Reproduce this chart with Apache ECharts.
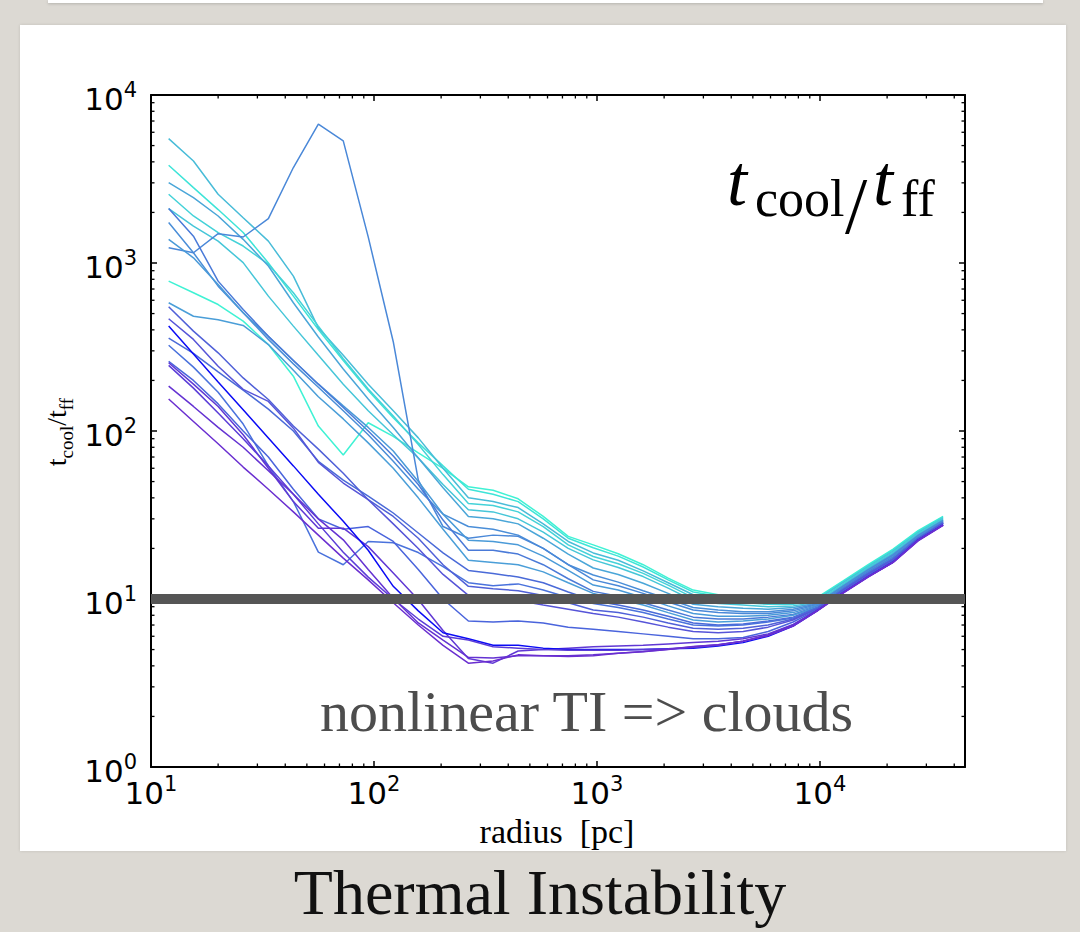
<!DOCTYPE html>
<html><head><meta charset="utf-8">
<script src="https://cdn.jsdelivr.net/npm/echarts@6/dist/echarts.min.js"></script>
<style>
html,body{margin:0;padding:0;width:1080px;height:932px;overflow:hidden;background:#dcd9d3;}
#strip{position:absolute;left:48px;top:0;width:995px;height:3px;background:#fff;box-shadow:0 1px 3px rgba(0,0,0,0.18);}
#panel{position:absolute;left:20px;top:25px;width:1046px;height:826px;background:#fff;box-shadow:0 0 3px rgba(0,0,0,0.12);}
#chart{position:absolute;left:0;top:0;width:1080px;height:932px;}
</style></head><body>
<div id="strip"></div><div id="panel"></div><div id="chart"></div>
<script>
// ---------- data ----------
const radii = [12.0, 15.5, 20.0, 25.9, 33.6, 43.5, 56.3, 72.8, 94.2, 122, 158, 204, 265, 342, 443, 574,
               743, 962, 1245, 1611, 2085, 2700, 3494, 4523, 5855, 7578, 9810, 12700, 16440, 21280, 27540, 35650];

const curve00 = [780,665,566,451,327,212,107,72,112,93,74,60,46.5,44.4,39.5,31,23.6,21,18.6,16,13.3,11.3,10.6,10.2,9.9,9.8,10.3,12.8,16,19.8,25.5,31];
const curve01 = [3820,2810,2080,1520,1000,635,402,263,174,120,85,62,45,42,38,30,23,20.2,18,15.5,13,11.0,10.4,10.0,9.7,9.7,10.2,12.7,15.8,19.6,25.2,30.8];
const curve02 = [5500,4050,2565,1860,1350,835,411,282,190,132,91,60,40,38,35,28,22,18.8,17,14.7,12.5,10.6,10.1,9.8,9.6,9.5,10.0,12.5,15.6,19.3,24.8,30.3];
const curve03 = [2565,1905,1517,1262,982,665,421,269,178,123,83,55,37,36,33,27,21,17.9,16.2,14.2,12.1,10.2,9.8,9.5,9.3,9.3,9.8,12.3,15.4,19,24.5,30];
const curve04 = [2110,1660,1350,1005,635,421,282,190,132,95,69,48,34,33,30,25,20,17.1,15.4,13.6,11.6,9.8,9.4,9.2,9.0,9.1,9.6,12.1,15.2,18.7,24.2,29.7];
const curve05 = [3010,2450,1905,1383,960,580,363,234,155,105,69,46,31,30,28,23,18.5,15.3,14,12.4,10.8,9.3,9.0,8.8,8.7,8.9,9.5,12,15,18.5,24,29.5];
const curve06 = [1740,1150,728,506,351,251,182,132,95,66,45,32,27,26,24,20,16,13.9,12.6,11.2,10,8.9,8.6,8.4,8.4,8.7,9.4,11.9,14.9,18.3,23.8,29.3];
const curve07 = [1233,1151,1495,1428,1837,3700,6700,5330,1430,340,51,27,23,24,23.6,20,16,13,12,10.8,9.6,8.6,8.3,8.2,8.2,8.5,9.3,11.8,14.8,18.1,23.6,29.1];
const curve08 = [1383,1074,745,506,366,263,190,141,105,76,50,32,22.4,22,21,18,14.8,12.1,11.3,10.2,9.1,8.2,7.9,7.9,8.0,8.3,9.2,11.7,14.6,17.9,23.4,28.9];
const curve09 = [2110,1445,780,528,366,263,190,138,100,71,48,29.5,19.5,19.5,18.5,16,13.2,11.1,10.4,9.5,8.6,7.8,7.6,7.6,7.8,8.1,9.1,11.6,14.5,17.7,23.2,28.7];
const curve10 = [580,482,460,425,327,230,160,118,85,60,40,26,17,16.5,16,14.5,12.5,10.8,10,9.2,8.3,7.5,7.3,7.4,7.6,8.0,9.0,11.5,14.3,17.5,23,28.5];
const curve11 = [357,290,225,175,135,100,66,51,41,32.5,24.7,18.8,14.8,14.2,13.5,12.5,11,9.8,9.2,8.6,7.9,7.2,7.0,7.1,7.4,7.8,8.95,11.45,14.25,17.4,22.95,28.45];
const curve12 = [324,240,170,110,62,38,19,16,22,21.6,18.9,15.6,12.5,12.0,12.3,11.3,10.2,9.4,8.9,8.3,7.6,7.0,6.9,7.0,7.3,7.7,8.9,11.4,14.2,17.3,22.9,28.4];
const curve13 = [549,393,292,207,154,107,78,56,39,31,23,16,11.9,11.5,11.2,10.5,9.5,8.6,8.3,7.8,7.2,6.7,6.6,6.7,7.0,7.6,8.8,11.3,14.1,17.2,22.8,28.3];
const curve14 = [466,351,243,177,150,104,65,49,39,28,20,14,10.5,10.2,9.8,9.2,8.7,8.2,7.8,7.3,6.8,6.4,6.3,6.4,6.8,7.5,8.8,11.3,14,17.1,22.7,28.2];
const curve15 = [260,200,145,100,70,45,30,26,27,22,15,10,7.4,7.3,7.4,7.2,6.8,6.6,6.4,6.2,6.0,5.8,5.8,5.9,6.4,7.3,8.7,11.1,13.8,16.9,22.6,28];
const curve16 = [255,190,140,95,60,38,26.4,26.4,20.5,14.3,9.9,6.5,4.43,4.15,4.9,5.0,5.1,5.2,5.25,5.3,5.4,5.5,5.6,5.8,6.2,7.05,8.6,10.9,13.6,16.6,22.4,27.6];
const curve17 = [421,287,196,134,91,62,42,29,19.5,11.9,8.5,6.3,5.8,5.3,5.3,5.1,5.0,5.0,5.0,5.0,5.05,5.1,5.25,5.5,6.0,6.9,8.6,10.9,13.6,16.6,22.4,27.6];
const curve18 = [246,180,128,90,62,42,28,19,13.5,10,7.6,6.0,5.7,5.2,5.1,5.0,4.95,4.95,4.95,5.0,5.05,5.15,5.3,5.6,6.1,7.0,8.6,10.9,13.6,16.6,22.4,27.6];
const curve19 = [185,140,105,80,58,42,30,22.5,15,10.1,7.2,5.7,4.5,4.45,4.6,4.6,4.6,4.65,4.75,4.85,5.0,5.2,5.35,5.6,6.1,6.95,8.6,10.9,13.6,16.5,22.3,27.5];
const curve20 = [155,114,84,61,45,33,24,17.5,13,9.5,7.0,5.3,4.15,4.28,4.65,4.6,4.54,4.6,4.76,4.87,5.02,5.21,5.35,5.6,6.05,6.9,8.55,10.85,13.5,16.5,22.2,27.4];

const threshold = 10;
const xMin = 10, xMax = 44700, yMin = 1, yMax = 10000;
const xMinorTicks = [20,30,40,50,60,70,80,90,200,300,400,500,600,700,800,900,
                     2000,3000,4000,5000,6000,7000,8000,9000,20000,30000,40000];
const yMinorTicks = [2,3,4,5,6,7,8,9,20,30,40,50,60,70,80,90,200,300,400,500,600,700,800,900,
                     2000,3000,4000,5000,6000,7000,8000,9000];

// ---------- styles ----------
const curves = [curve00,curve01,curve02,curve03,curve04,curve05,curve06,curve07,curve08,curve09,curve10,
                curve11,curve12,curve13,curve14,curve15,curve16,curve17,curve18,curve19,curve20];
const lineColors = ['#3ff2d4','#3ee4d8','#48bcd8','#44d2d8','#46c6d8','#4aa6d8','#4a8ed8','#4a88d8','#4a9ad8','#4a7ad8',
                    '#4a9ed8','#4a6ad8','#4a72dc','#5060d8','#5654d8','#4a64dc','#6038d4','#0a0af5','#5a3cd8','#6432d2','#6a2ed0'];

const serif = '"Liberation Serif", "DejaVu Serif", serif';
const sans = '"DejaVu Sans", sans-serif';
const minorLen = 3.5;

function powLabel(v){
  const l = Math.log10(v), e = Math.round(l);
  if (Math.abs(l - e) > 1e-6) return '';
  return '{b|10}{s|' + e + '}';
}
const labelRich = {
  b:{fontFamily:sans,fontSize:31,lineHeight:31,padding:[8,0,0,0],color:'#000'},
  s:{fontFamily:sans,fontSize:21,lineHeight:21,verticalAlign:'top',color:'#000'}
};

function minorX(params, api){
  const v = api.value(0);
  const b = api.coord([v, yMin]), t = api.coord([v, yMax]);
  return {type:'group', children:[
    {type:'line', shape:{x1:b[0],y1:b[1],x2:b[0],y2:b[1]-minorLen}, style:{stroke:'#000',lineWidth:1.3}},
    {type:'line', shape:{x1:t[0],y1:t[1],x2:t[0],y2:t[1]+minorLen}, style:{stroke:'#000',lineWidth:1.3}}
  ]};
}
function minorY(params, api){
  const v = api.value(1);
  const l = api.coord([xMin, v]), r = api.coord([xMax, v]);
  return {type:'group', children:[
    {type:'line', shape:{x1:l[0],y1:l[1],x2:l[0]+minorLen,y2:l[1]}, style:{stroke:'#000',lineWidth:1.3}},
    {type:'line', shape:{x1:r[0],y1:r[1],x2:r[0]-minorLen,y2:r[1]}, style:{stroke:'#000',lineWidth:1.3}}
  ]};
}

const series = curves.map((c, i) => ({
  type:'line', name:'curve' + i, showSymbol:false, symbol:'none', silent:true,
  data: radii.map((r, k) => [r, c[k]]),
  lineStyle:{width:1.5, color:lineColors[i]}, z:2
}));
series.push({
  type:'line', showSymbol:false, symbol:'none', silent:true,
  data:[[xMin, threshold],[xMax, threshold]],
  lineStyle:{width:10, color:'#555555'}, z:5
});
series.push({type:'custom', renderItem:minorX, data:xMinorTicks.map(v=>[v, yMin]), clip:false, silent:true, z:6,
             encode:{x:0,y:1}});
series.push({type:'custom', renderItem:minorY, data:yMinorTicks.map(v=>[xMin, v]), clip:false, silent:true, z:6,
             encode:{x:0,y:1}});

const axisLine = {show:true, onZero:false, lineStyle:{color:'#000', width:2}};
const axisTick = {show:true, inside:true, length:6, lineStyle:{color:'#000', width:1.5}};

const chart = echarts.init(document.getElementById('chart'), null, {renderer:'svg'});
chart.setOption({
  animation:false,
  backgroundColor:'transparent',
  grid:{left:151, right:115, top:95, bottom:165},
  xAxis:[
    {type:'log', logBase:10, min:xMin, max:xMax, position:'bottom',
     axisLine, axisTick, splitLine:{show:false},
     axisLabel:{formatter:powLabel, rich:labelRich, margin:6, showMaxLabel:false, hideOverlap:false}},
    {type:'log', logBase:10, min:xMin, max:xMax, position:'top',
     axisLine, axisTick, splitLine:{show:false}, axisLabel:{show:false}}
  ],
  yAxis:[
    {type:'log', logBase:10, min:yMin, max:yMax, position:'left',
     axisLine, axisTick, splitLine:{show:false},
     axisLabel:{formatter:powLabel, rich:labelRich, margin:14}},
    {type:'log', logBase:10, min:yMin, max:yMax, position:'right',
     axisLine, axisTick, splitLine:{show:false}, axisLabel:{show:false}}
  ],
  series,
  graphic:[
    // y axis title
    {type:'text', x:62, y:432, rotation:Math.PI/2, silent:true,
     style:{text:'{t|t}{s|cool}{t|/t}{s|ff}', align:'center', verticalAlign:'middle',
       rich:{t:{fontFamily:serif,fontSize:28,lineHeight:28,padding:[0,0,6,0],verticalAlign:'bottom',fill:'#000'},
             s:{fontFamily:serif,fontSize:19,lineHeight:19,verticalAlign:'bottom',fill:'#000'}}}},
    // x axis title
    {type:'text', x:557, y:831, silent:true,
     style:{text:'radius  [pc]', font:'34px ' + serif, align:'center', verticalAlign:'middle', fill:'#000'}},
    // big label t_cool / t_ff
    {type:'text', x:727, y:145, silent:true, style:{text:'t', font:'italic 72px ' + serif, fill:'#000'}},
    {type:'text', x:755, y:172, silent:true, style:{text:'cool', font:'52px ' + serif, fill:'#000'}},
    {type:'text', x:845, y:166, silent:true, style:{text:'/', font:'80px ' + serif, fill:'#000'}},
    {type:'text', x:873, y:145, silent:true, style:{text:'t', font:'italic 72px ' + serif, fill:'#000'}},
    {type:'text', x:901, y:172, silent:true, style:{text:'ff', font:'52px ' + serif, fill:'#000'}},
    // annotation
    {type:'text', x:320, y:682, silent:true,
     style:{text:'nonlinear TI => clouds', font:'58px ' + serif, fill:'#4d4d4d'}},
    // slide title
    {type:'text', x:540, y:860, silent:true,
     style:{text:'Thermal Instability', font:'64px ' + serif, align:'center', fill:'#111'}}
  ]
});
</script>
</body></html>
